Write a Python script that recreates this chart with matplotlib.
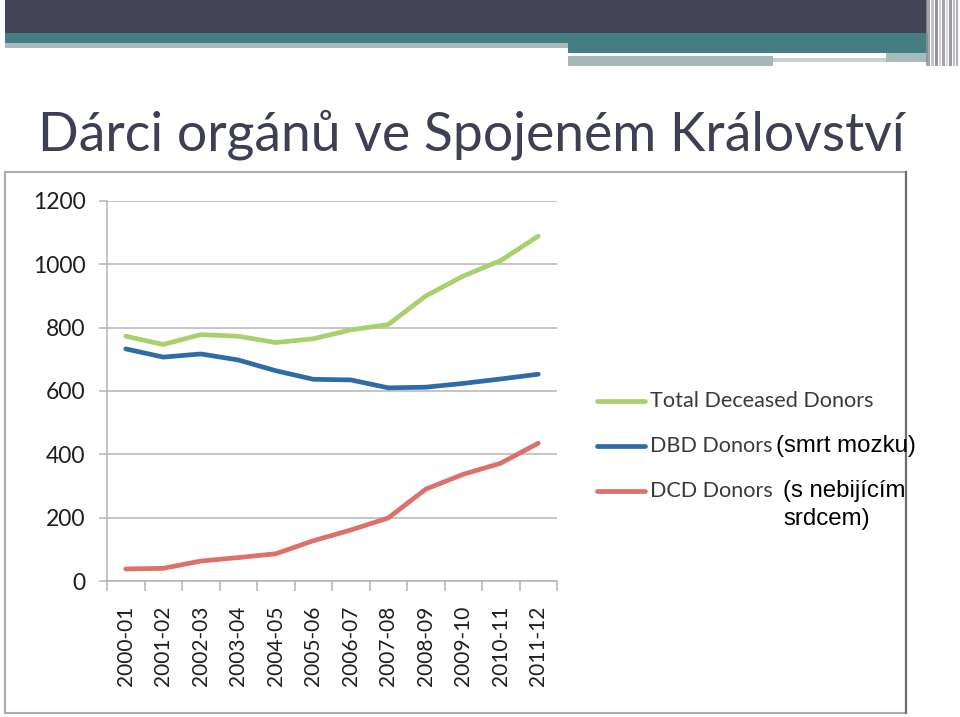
import matplotlib
matplotlib.use("Agg")
import matplotlib.pyplot as plt
from matplotlib.patches import Rectangle
from matplotlib.lines import Line2D

# ---------------- data ----------------
categories = ["2000-01", "2001-02", "2002-03", "2003-04", "2004-05", "2005-06",
              "2006-07", "2007-08", "2008-09", "2009-10", "2010-11", "2011-12"]
total_deceased = [773, 747, 778, 773, 753, 765, 793, 810, 900, 963, 1012, 1089]
dbd_donors = [733, 707, 717, 698, 664, 637, 635, 610, 612, 624, 638, 653]
dcd_donors = [38, 40, 63, 74, 86, 127, 161, 199, 290, 337, 372, 435]
series_names = ["Total Deceased Donors", "DBD Donors", "DCD Donors"]
note_dbd = "(smrt mozku)"
note_dcd = ["(s nebijícím", "srdcem)"]
y_ticks = [0, 200, 400, 600, 800, 1000, 1200]
title = "Dárci orgánů ve Spojeném Království"

colors = ["#a9d06c", "#2f6ba7", "#dc716b"]

W, H = 960, 717
fig = plt.figure(figsize=(W / 100, H / 100), dpi=100)
fig.patch.set_facecolor("white")

# overlay axes in pixel coordinates
bg = fig.add_axes([0, 0, 1, 1])
bg.set_xlim(0, W)
bg.set_ylim(H, 0)
bg.axis("off")

def rect(x, y, w, h, c, z=1, a=1.0):
    bg.add_patch(Rectangle((x, y), w, h, facecolor=c, edgecolor="none", zorder=z, alpha=a))

# header decorations
rect(5, 0, 922, 33, "#434456")
rect(5, 33, 923, 10, "#447e83")
rect(5, 43, 563, 5, "#a9bcbd")
rect(568, 43, 360, 10, "#447e83")
rect(886, 53, 42, 9, "#a9bcbd")
rect(568, 56, 205, 10, "#a6b9ba")
rect(773, 58, 113, 4, "#c4d2d3")
# right-side vertical stripes
for x, w, c in [(926, 4, "#8e9096"), (931, 3, "#b5b7bb"), (935, 3, "#7a7c84"),
                (939, 2, "#c8cacd"), (942, 3, "#8a8c92"), (946, 2, "#d0d2d4"),
                (949, 3, "#7f8188"), (953, 2, "#b0b2b6"), (956, 2, "#9a9ca1")]:
    rect(x, 0, w, 66, c, z=2, a=0.8)

# chart image frame
bg.add_patch(Rectangle((5, 172), 901, 541, facecolor="white", edgecolor="#a8acac",
                       linewidth=1.5, zorder=1))
bg.plot([906, 906], [172, 713], color="#707070", lw=1.6, zorder=2)

# title (fit to width)
t = bg.text(38, 150, title, fontsize=40, family="Lato", color="#3d3f52",
            ha="left", va="baseline")
fig.canvas.draw()
r = fig.canvas.get_renderer()
wpx = t.get_window_extent(r).width
t.set_fontsize(40 * 867 / wpx)

# ---------------- chart ----------------
L, R, T, B = 107, 557, 201, 581
ax = fig.add_axes([L / W, 1 - B / H, (R - L) / W, (B - T) / H])
ax.set_facecolor("none")
x = [i + 0.5 for i in range(len(categories))]
for vals, c in zip([total_deceased, dbd_donors, dcd_donors], colors):
    ax.plot(x, vals, color=c, lw=3.4, solid_capstyle="round", solid_joinstyle="round", zorder=3)

ax.set_xlim(0, len(categories))
ax.set_ylim(0, 1200)
ax.set_yticks(y_ticks)
ax.set_yticklabels([str(v) for v in y_ticks])
ax.yaxis.grid(True, color="#b4b4b4", lw=1.1)
ax.set_axisbelow(True)
ax.tick_params(axis="y", length=6, width=1.1, color="#b4b4b4", labelsize=16.5,
               labelcolor="#1e1e1e", pad=9.5)
for lab in ax.get_yticklabels():
    lab.set_family("Lato")

ax.set_xticks(range(len(categories) + 1))
ax.set_xticklabels([])
ax.set_xticks(x, minor=True)
ax.set_xticklabels(categories, minor=True, rotation=90, fontsize=15, family="Lato",
                   color="#1e1e1e")
ax.tick_params(axis="x", which="major", length=7, width=1.1, color="#b4b4b4", direction="out")
ax.tick_params(axis="x", which="minor", length=0, pad=18)
for s in ["top", "right"]:
    ax.spines[s].set_visible(False)
for s in ["left", "bottom"]:
    ax.spines[s].set_color("#b4b4b4")
    ax.spines[s].set_linewidth(1.1)

# legend (manual, pixel coords)
leg_y = [401, 446, 491]
for yy, c, name in zip(leg_y, colors, series_names):
    bg.add_line(Line2D([597, 645], [yy, yy], color=c, lw=3.4, solid_capstyle="round", zorder=3))
    bg.text(650, yy, name, fontsize=15.6, family="Lato", color="#3a3a3a", ha="left",
            va="center", zorder=3)

bg.text(776, 446, note_dbd, fontsize=17.3, family="Liberation Sans",
        color="black", ha="left", va="center", zorder=4)
bg.text(783, 491, note_dcd[0], fontsize=17.3, family="Liberation Sans",
        color="black", ha="left", va="center", zorder=4)
bg.text(783, 519, note_dcd[1], fontsize=17.3, family="Liberation Sans",
        color="black", ha="left", va="center", zorder=4)

fig.savefig("out.png", dpi=100, facecolor="white")
